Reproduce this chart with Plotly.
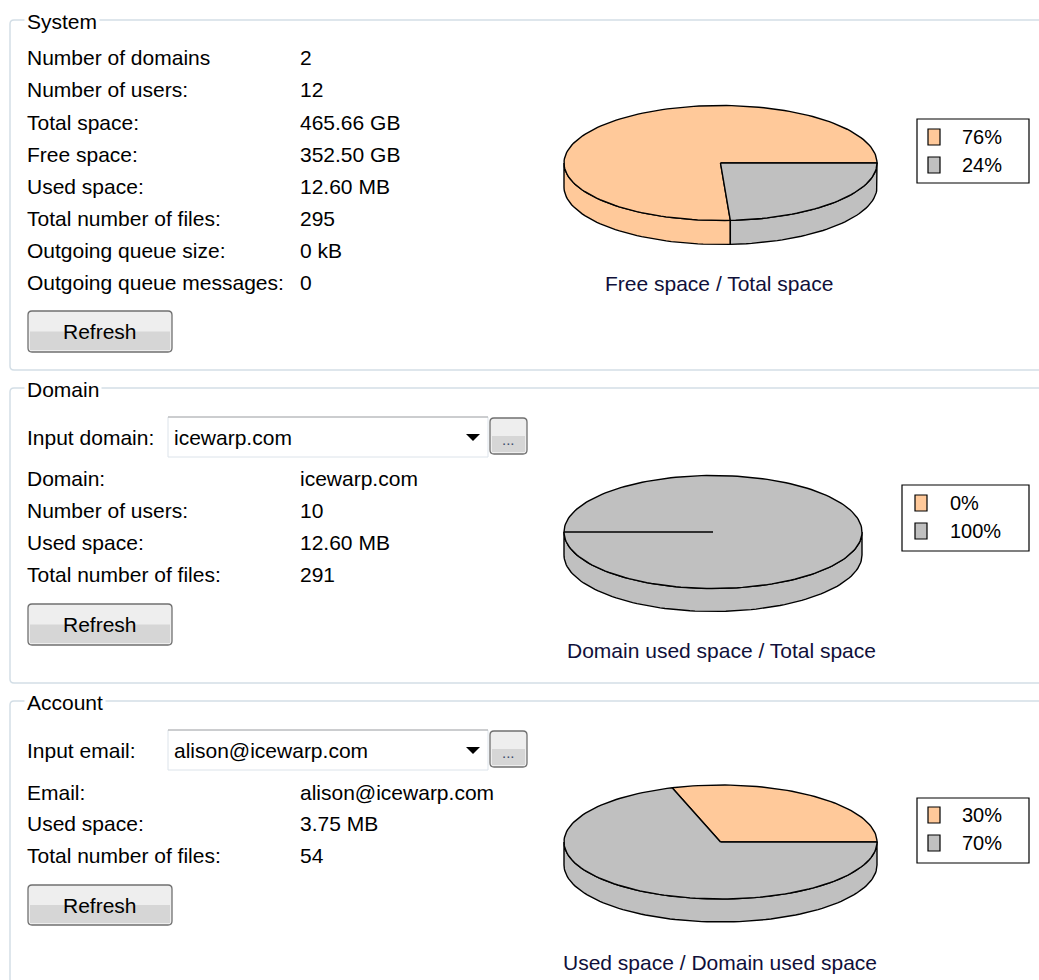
import math
import plotly.graph_objects as go

# ---------------- data ----------------
system_labels = ["Number of domains", "Number of users:", "Total space:", "Free space:",
                 "Used space:", "Total number of files:", "Outgoing queue size:",
                 "Outgoing queue messages:"]
system_values = ["2", "12", "465.66 GB", "352.50 GB", "12.60 MB", "295", "0 kB", "0"]

domain_input_label = "Input domain:"
domain_input_value = "icewarp.com"
domain_labels = ["Domain:", "Number of users:", "Used space:", "Total number of files:"]
domain_values = ["icewarp.com", "10", "12.60 MB", "291"]

account_input_label = "Input email:"
account_input_value = "alison@icewarp.com"
account_labels = ["Email:", "Used space:", "Total number of files:"]
account_values = ["alison@icewarp.com", "3.75 MB", "54"]

group_titles = ["System", "Domain", "Account"]
pie_titles = ["Free space / Total space", "Domain used space / Total space",
              "Used space / Domain used space"]
system_pie_pct = [76, 24]
domain_pie_pct = [0, 100]
account_pie_pct = [30, 70]
button_label = "Refresh"

# ---------------- styles / layout ----------------
W, H = 1039, 980
FONT = "Liberation Sans, Arial, sans-serif"
SLICE_COLORS = ["#FFC99A", "#C0C0C0"]
BOX_COLOR = "#D3DEE6"

fig = go.Figure()
shapes = []
annotations = []


def txt(x, y, s, size=21, xanchor="left", color="#000000", bg=None):
    a = dict(x=x, y=y, xref="x", yref="y", text=s, showarrow=False,
             xanchor=xanchor, yanchor="middle",
             font=dict(family=FONT, size=size, color=color))
    if bg:
        a["bgcolor"] = bg
        a["borderpad"] = 2
    annotations.append(a)


def rounded(x0, y0, x1, y1, r):
    return (f"M{x0+r},{y0} L{x1-r},{y0} Q{x1},{y0} {x1},{y0+r} L{x1},{y1-r} "
            f"Q{x1},{y1} {x1-r},{y1} L{x0+r},{y1} Q{x0},{y1} {x0},{y1-r} "
            f"L{x0},{y0+r} Q{x0},{y0} {x0+r},{y0} Z")


def group_box(top, bottom, title):
    r = 4
    path = (f"M1070,{top} L{10+r},{top} Q10,{top} 10,{top+r} L10,{bottom-r} "
            f"Q10,{bottom} {10+r},{bottom} L1070,{bottom}")
    shapes.append(dict(type="path", path=path, xref="x", yref="y",
                       line=dict(color=BOX_COLOR, width=1.5), layer="below"))
    txt(24, top + 1, title, size=21, bg="white")


def button(x0, y0, x1, y1, label, size=21, color="#000000", text_dy=0):
    shapes.append(dict(type="path", path=rounded(x0, y0, x1, y1, 4), xref="x", yref="y",
                       fillcolor="#EEEEEE", line=dict(width=0), layer="below"))
    mid = (y0 + y1) / 2
    shapes.append(dict(type="rect", x0=x0 + 2, x1=x1 - 2, y0=mid, y1=y1 - 2, xref="x", yref="y",
                       fillcolor="#D6D6D6", line=dict(width=0), layer="below"))
    shapes.append(dict(type="path", path=rounded(x0, y0, x1, y1, 4), xref="x", yref="y",
                       line=dict(color="#707070", width=1.3), layer="below"))
    txt((x0 + x1) / 2, mid + text_dy, label, size=size, xanchor="center", color=color)


def combo(x0, y0, x1, y1, value):
    shapes.append(dict(type="rect", x0=x0, x1=x1, y0=y0, y1=y1, xref="x", yref="y",
                       fillcolor="white", line=dict(color="#DCE3EA", width=1), layer="below"))
    shapes.append(dict(type="line", x0=x0, x1=x1, y0=y0, y1=y0, xref="x", yref="y",
                       line=dict(color="#A9A9A9", width=1.2), layer="below"))
    ay = (y0 + y1) / 2
    ax = x1 - 15
    shapes.append(dict(type="path", path=f"M{ax-7},{ay-3} L{ax+7},{ay-3} L{ax},{ay+4} Z",
                       xref="x", yref="y", fillcolor="black", line=dict(width=0), layer="below"))
    txt(x0 + 4, ay, value, size=21)
    button(x1 + 2, y0 + 1, x1 + 39, y1 - 3, "...", size=15, color="#3A4A6A", text_dy=3)


def draw_pie(pcts, cx, cy, rx, ry, depth, start):
    def pt(deg, dy=0.0):
        t = math.radians(deg)
        return cx + rx * math.cos(t), cy - ry * math.sin(t) + dy

    def arc(a, b, dy=0.0, n=None):
        n = n or max(2, int(abs(b - a) / 2) + 2)
        xs, ys = [], []
        for i in range(n):
            x, y = pt(a + (b - a) * i / (n - 1), dy)
            xs.append(x)
            ys.append(y)
        return xs, ys

    slices = []
    a = start
    for p in pcts:
        b = a + 360.0 * p / sum(pcts)
        slices.append((a, b))
        a = b

    # side walls (front half only)
    for (a, b), col in zip(slices, SLICE_COLORS):
        for k in range(-1, 3):
            lo, hi = 180 + 360 * k, 360 + 360 * k
            s, e = max(a, lo), min(b, hi)
            if e - s <= 0:
                continue
            tx, ty = arc(s, e)
            bx, by = arc(e, s, dy=depth)
            fig.add_trace(go.Scatter(x=tx + bx + [tx[0]], y=ty + by + [ty[0]], mode="lines",
                                     fill="toself", fillcolor=col,
                                     line=dict(color="black", width=1.4),
                                     hoverinfo="skip", showlegend=False))
    # top faces
    for (a, b), col in zip(slices, SLICE_COLORS):
        tx, ty = arc(a, b)
        fig.add_trace(go.Scatter(x=[cx] + tx + [cx], y=[cy] + ty + [cy], mode="lines",
                                 fill="toself", fillcolor=col,
                                 line=dict(color="black", width=1.4),
                                 hoverinfo="skip", showlegend=False))


def legend_box(x0, y0, x1, y1, pcts, sw_x, text_x, rows_y):
    shapes.append(dict(type="rect", x0=x0, x1=x1, y0=y0, y1=y1, xref="x", yref="y",
                       fillcolor="white", line=dict(color="black", width=1.2)))
    for p, col, yy in zip(pcts, SLICE_COLORS, rows_y):
        shapes.append(dict(type="rect", x0=sw_x, x1=sw_x + 12, y0=yy - 8, y1=yy + 8,
                           xref="x", yref="y", fillcolor=col, line=dict(color="black", width=1.2)))
        txt(text_x, yy, f"{p}%", size=20)


TITLE_COLOR = "#10103A"

# ---------------- System ----------------
group_box(20, 370, group_titles[0])
sys_rows = [57, 89, 122, 154, 186, 218, 250, 282]
for lab, val, yy in zip(system_labels, system_values, sys_rows):
    txt(25, yy, lab)
    txt(298, yy, val)
button(28, 311, 172, 352, button_label)
draw_pie(system_pie_pct, 720.5, 163, 156.5, 57.5, 24, 0)
legend_box(917, 119, 1029, 183, system_pie_pct, 928, 960, [137, 165])
txt(719, 283, pie_titles[0], xanchor="center", color=TITLE_COLOR)

# ---------------- Domain ----------------
group_box(388, 683, group_titles[1])
txt(25, 437, domain_input_label)
combo(168, 417, 488, 457, domain_input_value)
dom_rows = [478, 510, 542, 574]
for lab, val, yy in zip(domain_labels, domain_values, dom_rows):
    txt(25, yy, lab)
    txt(298, yy, val)
button(28, 604, 172, 645, button_label)
draw_pie(domain_pie_pct, 713, 532, 149, 56.5, 23, 180)
legend_box(902, 485, 1029, 551, domain_pie_pct, 915, 948, [503, 531])
txt(721, 650, pie_titles[1], xanchor="center", color=TITLE_COLOR)

# ---------------- Account ----------------
group_box(701, 1010, group_titles[2])
txt(25, 750, account_input_label)
combo(168, 730, 488, 770, account_input_value)
acc_rows = [792, 823, 855]
for lab, val, yy in zip(account_labels, account_values, acc_rows):
    txt(25, yy, lab)
    txt(298, yy, val)
button(28, 885, 172, 925, button_label)
draw_pie(account_pie_pct, 720.5, 842, 156.5, 57, 23, 0)
legend_box(917, 798, 1029, 863, account_pie_pct, 928, 960, [815, 843])
txt(720, 962, pie_titles[2], xanchor="center", color=TITLE_COLOR)

fig.update_layout(
    width=W, height=H, autosize=False,
    margin=dict(l=0, r=0, t=0, b=0, pad=0),
    paper_bgcolor="white", plot_bgcolor="white",
    xaxis=dict(range=[0, W], visible=False, fixedrange=True),
    yaxis=dict(range=[H, 0], visible=False, fixedrange=True),
    shapes=shapes, annotations=annotations, showlegend=False,
)

fig.write_html("out.html", config={"displayModeBar": False})
